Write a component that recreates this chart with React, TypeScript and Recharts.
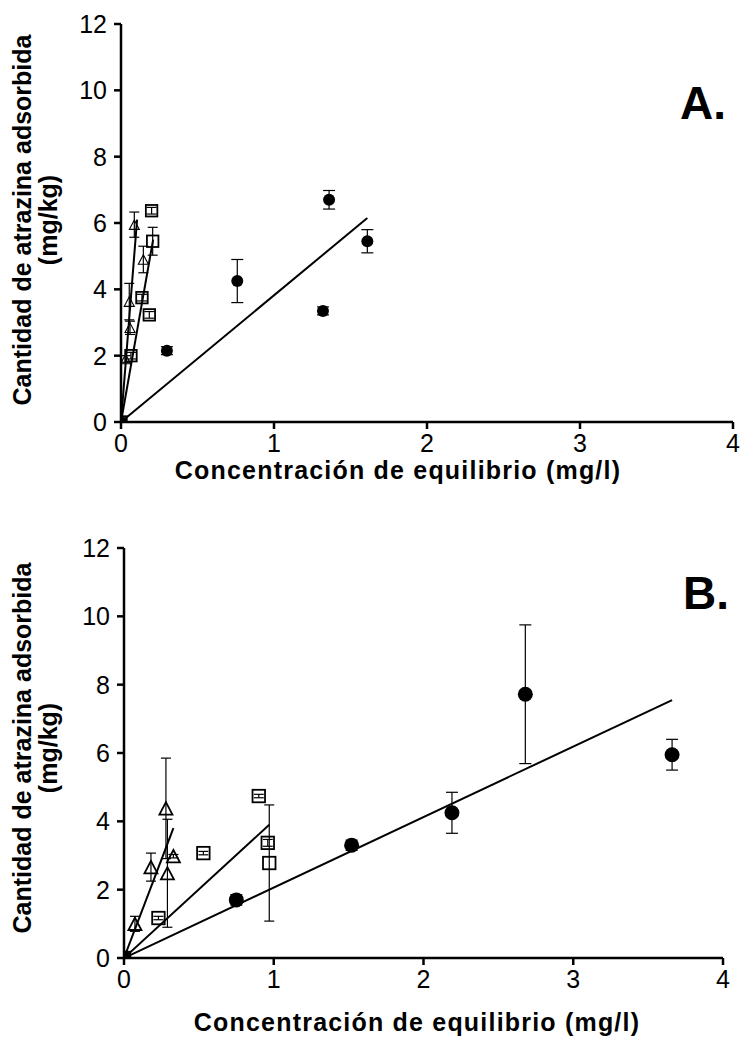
import React from "react";
import { ScatterChart, Scatter, XAxis, YAxis, ErrorBar } from "recharts";

// Panel A data (x: mg/l, y: mg/kg, err: +/-)
const circlesA = [
  { x: 0, y: 0, err: 0 },
  { x: 0.3, y: 2.15, err: 0.12 },
  { x: 0.76, y: 4.25, err: 0.65 },
  { x: 1.32, y: 3.35, err: 0.12 },
  { x: 1.36, y: 6.7, err: 0.28 },
  { x: 1.61, y: 5.45, err: 0.35 },
];
const squaresA = [
  { x: 0, y: 0, err: 0 },
  { x: 0.065, y: 2.0, err: 0.1 },
  { x: 0.137, y: 3.75, err: 0.1 },
  { x: 0.185, y: 3.23, err: 0.1 },
  { x: 0.207, y: 5.45, err: 0.42 },
  { x: 0.2, y: 6.37, err: 0.1 },
];
const trianglesA = [
  { x: 0, y: 0, err: 0 },
  { x: 0.03, y: 1.9, err: 0.1 },
  { x: 0.054, y: 3.63, err: 0.55 },
  { x: 0.059, y: 2.84, err: 0.2 },
  { x: 0.146, y: 4.9, err: 0.4 },
  { x: 0.087, y: 5.95, err: 0.38 },
];
const fitCirclesA = [{ x: 0, y: 0 }, { x: 1.61, y: 6.15 }];
const fitSquaresA = [{ x: 0, y: 0 }, { x: 0.21, y: 5.5 }];
const fitTrianglesA = [{ x: 0, y: 0 }, { x: 0.105, y: 6.1 }];

// Panel B data
const circlesB = [
  { x: 0, y: 0, err: 0 },
  { x: 0.75, y: 1.7, err: 0.15 },
  { x: 1.52, y: 3.3, err: 0.15 },
  { x: 2.19, y: 4.25, err: 0.6 },
  { x: 2.68, y: 7.72, err: 2.03 },
  { x: 3.66, y: 5.95, err: 0.45 },
];
const squaresB = [
  { x: 0, y: 0, err: 0 },
  { x: 0.23, y: 1.17, err: 0.05 },
  { x: 0.53, y: 3.07, err: 0.05 },
  { x: 0.9, y: 4.74, err: 0.05 },
  { x: 0.96, y: 3.37, err: 0.1 },
  { x: 0.97, y: 2.78, err: 1.7 },
];
const trianglesB = [
  { x: 0, y: 0, err: 0 },
  { x: 0.073, y: 1.0, err: 0.22 },
  { x: 0.18, y: 2.66, err: 0.41 },
  { x: 0.28, y: 4.38, err: 1.47 },
  { x: 0.29, y: 2.48, err: 1.58 },
  { x: 0.33, y: 2.98, err: 0.05 },
];
const fitCirclesB = [{ x: 0, y: 0 }, { x: 3.66, y: 7.55 }];
const fitSquaresB = [{ x: 0, y: 0 }, { x: 0.97, y: 3.9 }];
const fitTrianglesB = [{ x: 0, y: 0 }, { x: 0.33, y: 3.8 }];

const xTicks = [0, 1, 2, 3, 4];
const yTicks = [0, 2, 4, 6, 8, 10, 12];

const FONT = "'Liberation Sans', Arial, sans-serif";
const NARROW = "'Liberation Sans Narrow', 'Arial Narrow', 'Liberation Sans', sans-serif";

const Circle = (r: number) => (p: any) => <circle cx={p.cx} cy={p.cy} r={r} fill="#000" />;
const Square = (s: number) => (p: any) => (
  <rect x={p.cx - s / 2} y={p.cy - s / 2} width={s} height={s} fill="none" stroke="#000" strokeWidth={1.8} />
);
const Triangle = (s: number, w: number) => (p: any) => {
  const h = s * 0.95;
  return (
    <polygon
      points={`${p.cx},${p.cy - h / 2} ${p.cx - s / 2},${p.cy + h / 2} ${p.cx + s / 2},${p.cy + h / 2}`}
      fill="none"
      stroke="#000"
      strokeWidth={w}
    />
  );
};
const NoDot = () => <g />;

interface PanelProps {
  circles: any[];
  squares: any[];
  triangles: any[];
  fits: any[][];
  top: number;
  height: number;
  margin: { top: number; right: number; bottom: number; left: number };
  r: number;
  sq: number;
  tri: number;
  triW: number;
}

function Panel({ circles, squares, triangles, fits, top, height, margin, r, sq, tri, triW }: PanelProps) {
  const tickStyle = { fill: "#000", fontSize: 25, fontFamily: NARROW };
  return (
    <div style={{ position: "absolute", left: 0, top }}>
      <ScatterChart width={742} height={height} margin={margin}>
        <XAxis
          type="number"
          dataKey="x"
          domain={[0, 4]}
          ticks={xTicks}
          allowDataOverflow
          stroke="#000"
          strokeWidth={2.5}
          tickSize={7}
          tickMargin={5}
          tick={tickStyle}
          fontSize={25}
          height={40}
        />
        <YAxis
          type="number"
          dataKey="y"
          domain={[0, 12]}
          ticks={yTicks}
          allowDataOverflow
          stroke="#000"
          strokeWidth={2.5}
          tickSize={7}
          tickMargin={7}
          tick={tickStyle}
          fontSize={25}
          width={60}
        />
        {fits.map((f, i) => (
          <Scatter
            key={i}
            data={f}
            line={{ stroke: "#000", strokeWidth: 2 }}
            shape={NoDot}
            isAnimationActive={false}
            legendType="none"
          />
        ))}
        <Scatter data={triangles} shape={Triangle(tri, triW)} isAnimationActive={false}>
          <ErrorBar dataKey="err" direction="y" width={5} stroke="#000" strokeWidth={1.2} />
        </Scatter>
        <Scatter data={squares} shape={Square(sq)} isAnimationActive={false}>
          <ErrorBar dataKey="err" direction="y" width={5} stroke="#000" strokeWidth={1.2} />
        </Scatter>
        <Scatter data={circles} shape={Circle(r)} isAnimationActive={false}>
          <ErrorBar dataKey="err" direction="y" width={6} stroke="#000" strokeWidth={1.2} />
        </Scatter>
      </ScatterChart>
    </div>
  );
}

const yTitle: React.CSSProperties = {
  position: "absolute",
  width: 480,
  transform: "translate(-50%, -50%) rotate(-90deg)",
  textAlign: "center",
  fontFamily: FONT,
  fontWeight: "bold",
  fontSize: 25,
  lineHeight: "26px",
  color: "#000",
  whiteSpace: "nowrap",
};
const xTitle: React.CSSProperties = {
  position: "absolute",
  width: 640,
  transform: "translate(-50%, -50%)",
  textAlign: "center",
  fontFamily: FONT,
  fontWeight: "bold",
  fontSize: 25,
  letterSpacing: 1.2,
  lineHeight: "19px",
  color: "#000",
  whiteSpace: "nowrap",
};
const panelTag: React.CSSProperties = {
  position: "absolute",
  transform: "translate(-50%, -50%)",
  fontFamily: FONT,
  fontWeight: "bold",
  fontSize: 46,
  color: "#000",
};

export default function App() {
  return (
    <div style={{ position: "absolute", left: 0, top: 0, width: 742, height: 1040, background: "#fff" }}>
      <Panel
        circles={circlesA}
        squares={squaresA}
        triangles={trianglesA}
        fits={[fitCirclesA, fitSquaresA, fitTrianglesA]}
        top={0}
        height={480}
        margin={{ top: 24, right: 9, bottom: 18, left: 61 }}
        r={6}
        sq={11.5}
        tri={10}
        triW={1.1}
      />
      <Panel
        circles={circlesB}
        squares={squaresB}
        triangles={trianglesB}
        fits={[fitCirclesB, fitSquaresB, fitTrianglesB]}
        top={520}
        height={500}
        margin={{ top: 28, right: 19, bottom: 22, left: 64 }}
        r={7.5}
        sq={12.5}
        tri={13}
        triW={1.8}
      />
      <div style={{ ...yTitle, left: 35, top: 220 }}>
        Cantidad de atrazina adsorbida
        <br />
        (mg/kg)
      </div>
      <div style={{ ...xTitle, left: 398, top: 470 }}>Concentración de equilibrio (mg/l)</div>
      <div style={{ ...panelTag, left: 703, top: 103 }}>A.</div>

      <div style={{ ...yTitle, left: 35, top: 748 }}>
        Cantidad de atrazina adsorbida
        <br />
        (mg/kg)
      </div>
      <div style={{ ...xTitle, left: 417, top: 1022 }}>Concentración de equilibrio (mg/l)</div>
      <div style={{ ...panelTag, left: 706, top: 593 }}>B.</div>
    </div>
  );
}
